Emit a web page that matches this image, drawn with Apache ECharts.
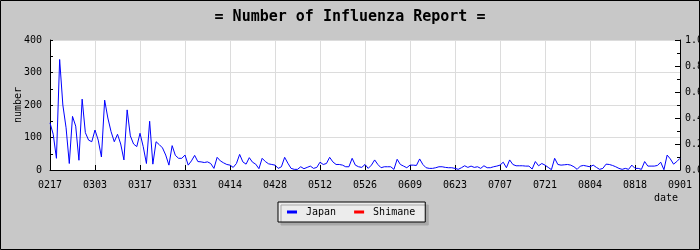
<!DOCTYPE html>
<html>
<head>
<meta charset="utf-8">
<script src="https://cdn.jsdelivr.net/npm/echarts@6/dist/echarts.min.js"></script>
<style>
  html, body { margin: 0; padding: 0; background: #c8c8c8; }
  #chart { width: 700px; height: 250px; }
</style>
</head>
<body>
<div id="chart"></div>
<script>
// daily report counts, 02/17 .. 09/01
var japan = [
  145, 110, 36, 340, 200, 130, 20, 165, 135, 30,
  218, 115, 92, 87, 123, 92, 40, 215, 160, 118,
  87, 110, 80, 31, 185, 105, 80, 72, 113, 72,
  20, 150, 18, 87, 78, 68, 46, 15, 75, 45,
  36, 36, 46, 15, 28, 45, 26, 25, 23, 25,
  20, 5, 39, 28, 22, 17, 15, 8, 20, 48,
  25, 18, 38, 24, 18, 4, 36, 26, 19, 17,
  15, 5, 10, 39, 21, 5, 2, 2, 10, 4,
  8, 12, 5, 8, 24, 17, 20, 39, 25, 17,
  17, 15, 10, 10, 36, 15, 10, 8, 17, 5,
  15, 31, 17, 7, 10, 10, 10, 2, 33, 17,
  12, 7, 15, 15, 14, 34, 17, 7, 5, 5,
  7, 10, 10, 8, 7, 7, 5, 2, 7, 13,
  8, 12, 8, 10, 5, 13, 7, 7, 10, 12,
  15, 24, 7, 31, 17, 13, 13, 13, 12, 12,
  3, 26, 13, 20, 15, 8, 1, 36, 17, 15,
  16, 17, 15, 10, 2, 12, 14, 12, 10, 15,
  8, 2, 5, 18, 17, 14, 10, 5, 2, 5,
  2, 15, 5, 5, 2, 26, 12, 12, 12, 14,
  24, 1, 46, 34, 18, 26, 36
];
var shimane = [];
var seriesNames = ['Japan', 'Shimane'];

// category labels MMDD, one per day
var dates = [];
var d = new Date(2009, 1, 17);
for (var i = 0; i < japan.length; i++) {
  var mm = ('0' + (d.getMonth() + 1)).slice(-2);
  var dd = ('0' + d.getDate()).slice(-2);
  dates.push(mm + dd);
  d.setDate(d.getDate() + 1);
}

var font = 'DejaVu Sans Mono';
var chart = echarts.init(document.getElementById('chart'));
chart.setOption({
  backgroundColor: '#c8c8c8',
  animation: false,
  title: {
    text: '= Number of Influenza Report =',
    left: 'center',
    top: 5,
    textStyle: { fontFamily: font, fontSize: 15, fontWeight: 'bold', color: '#000' }
  },
  legend: {
    data: seriesNames,
    left: 278,
    top: 202,
    padding: [5, 10, 5, 9],
    itemGap: 18,
    itemWidth: 10,
    itemHeight: 3,
    icon: 'rect',
    backgroundColor: '#ececec',
    borderColor: '#000',
    borderWidth: 1,
    shadowColor: '#a8a8a8',
    shadowOffsetX: 3,
    shadowOffsetY: 3,
    shadowBlur: 0,
    textStyle: { fontFamily: font, fontSize: 10, color: '#000', padding: [0, 0, 0, 4] }
  },
  grid: {
    left: 50, right: 20, top: 40, bottom: 80,
    outerBoundsMode: 'none',
    containLabel: false,
    show: true, backgroundColor: '#fff', borderWidth: 0
  },
  xAxis: {
    type: 'category',
    data: dates,
    boundaryGap: false,
    name: 'date',
    nameLocation: 'end',
    nameGap: -2,
    nameMoveOverlap: false,
    nameTextStyle: {
      fontFamily: font, fontSize: 10, color: '#000',
      align: 'right', verticalAlign: 'top', padding: [23, 0, 0, 0]
    },
    axisLine: { lineStyle: { color: '#000', width: 1 } },
    axisTick: { inside: true, length: 5, interval: 13, lineStyle: { color: '#000' } },
    axisLabel: { interval: 13, margin: 10, fontFamily: font, fontSize: 10, color: '#000' },
    splitLine: { show: true, interval: 13, lineStyle: { color: '#dcdcdc', width: 1 } }
  },
  yAxis: [
    {
      type: 'value',
      min: 0, max: 400, interval: 100,
      name: 'number',
      nameLocation: 'middle',
      nameGap: 27,
      nameMoveOverlap: false,
      nameTextStyle: { fontFamily: font, fontSize: 10, color: '#000' },
      axisLine: { show: true, lineStyle: { color: '#000', width: 1 } },
      axisTick: { show: true, inside: true, length: 3, lineStyle: { color: '#000' } },
      minorTick: { show: true, splitNumber: 2, length: 3, lineStyle: { color: '#000' } },
      axisLabel: { margin: 8, fontFamily: font, fontSize: 10, color: '#000' },
      splitLine: { show: true, lineStyle: { color: '#dcdcdc', width: 1 } }
    },
    {
      type: 'value',
      position: 'right',
      min: 0, max: 1, interval: 0.2,
      axisLine: { show: true, lineStyle: { color: '#000', width: 1 } },
      axisTick: { show: true, inside: true, length: 5, lineStyle: { color: '#000' } },
      minorTick: { show: true, splitNumber: 2, length: 3, lineStyle: { color: '#000' } },
      axisLabel: {
        margin: 5, fontFamily: font, fontSize: 10, color: '#000',
        formatter: function (v) { return v.toFixed(1); }
      },
      splitLine: { show: false }
    }
  ],
  series: [
    {
      name: seriesNames[0],
      type: 'line',
      data: japan,
      yAxisIndex: 0,
      showSymbol: false,
      symbol: 'none',
      lineStyle: { color: '#0000ff', width: 1 },
      itemStyle: { color: '#0000ff' }
    },
    {
      name: seriesNames[1],
      type: 'line',
      data: shimane,
      yAxisIndex: 1,
      showSymbol: false,
      symbol: 'none',
      lineStyle: { color: '#ff0000', width: 1 },
      itemStyle: { color: '#ff0000' }
    }
  ],
  graphic: [
    {
      type: 'rect',
      z: 100,
      shape: { x: 0.5, y: 0.5, width: 699, height: 249 },
      style: { fill: null, stroke: '#000', lineWidth: 1 }
    }
  ]
});
</script>
</body>
</html>
